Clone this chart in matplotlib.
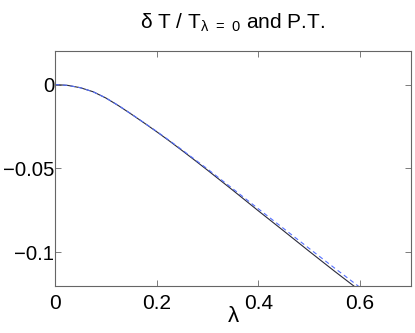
import numpy as np
import matplotlib
matplotlib.use("Agg")
import matplotlib.pyplot as plt

plt.rcParams['font.family'] = ['Liberation Sans', 'DejaVu Sans']
plt.rcParams['mathtext.default'] = 'regular'

# lambda values and the two curves
lam = [0.0, 0.025, 0.05, 0.075, 0.1, 0.125, 0.15, 0.175, 0.2, 0.225,
       0.25, 0.275, 0.3, 0.35, 0.4, 0.45, 0.5, 0.55, 0.6]
dT_exact = [0.0, -0.0005, -0.0019, -0.0043, -0.0080, -0.0126, -0.0176,
            -0.0228, -0.0281, -0.0336, -0.0393, -0.0451, -0.0510,
            -0.0630, -0.0752, -0.0872, -0.0993, -0.1112, -0.1228]
dT_pt = [0.0, -0.0005, -0.0019, -0.0043, -0.0080, -0.0125, -0.0175,
         -0.0227, -0.0279, -0.0333, -0.0389, -0.0446, -0.0503,
         -0.0621, -0.0740, -0.0858, -0.0976, -0.1093, -0.1208]

fig = plt.figure(figsize=(4.15, 3.33), dpi=100)
ax = fig.add_axes([0.1325, 0.141, 0.8575, 0.706])

ax.plot(lam, dT_exact, color='#2a2a3a', lw=0.8)
ax.plot(lam, dT_pt, color='#5570ff', lw=0.8, ls=(0, (4, 3)))

ax.set_xlim(0, 0.7)
ax.set_ylim(-0.12, 0.02)
ax.set_xticks([0, 0.2, 0.4, 0.6])
ax.set_xticklabels(['0', '0.2', '0.4', '0.6'])
ax.set_yticks([0, -0.05, -0.1])
ax.set_yticklabels(['0', '\u22120.05', '\u22120.1'])
ax.tick_params(direction='in', top=True, right=True, labelsize=15,
               length=4, width=0.6, color='#666666')
ax.tick_params(axis='x', pad=6)
ax.tick_params(axis='y', pad=0.5, labelsize=14.6)
for s in ax.spines.values():
    s.set_color('#666666')
    s.set_linewidth(0.8)

ax.set_xlabel('\u03bb', fontsize=16, labelpad=-5)
ax.set_title('\u03b4 T / T$_{\u03bb\\ =\\ 0}$ and P.T.', fontsize=15, pad=16)

plt.savefig('out.png', dpi=100)
